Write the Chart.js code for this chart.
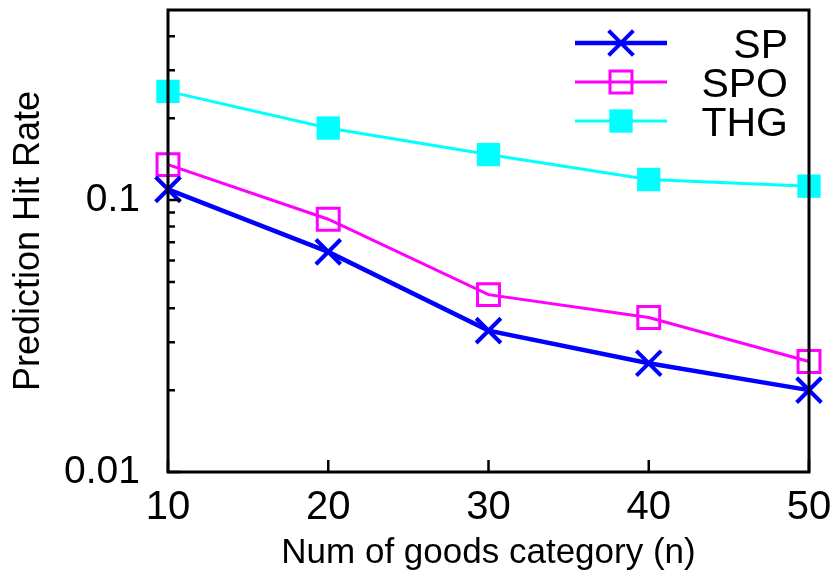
<!DOCTYPE html>
<html>
<head>
<meta charset="utf-8">
<script src="https://cdn.jsdelivr.net/npm/chart.js@4/dist/chart.umd.min.js"></script>
<style>
  html, body { margin: 0; padding: 0; background: #ffffff; }
  #wrap { width: 839px; height: 577px; position: relative; }
</style>
</head>
<body>
<div id="wrap"><canvas id="chart" width="839" height="577"></canvas></div>
<script>
// Number of goods categories (x axis)
const categories = [10, 20, 30, 40, 50];
// Prediction hit rate per method
const spValues  = [0.1095, 0.0645, 0.0331, 0.0251, 0.0200];
const spoValues = [0.1350, 0.0850, 0.0449, 0.0370, 0.0255];
const thgValues = [0.2510, 0.1840, 0.1470, 0.1190, 0.1125];
// Axis ticks
const xTickLabels = [10, 20, 30, 40, 50];
const yTickLabels = [0.01, 0.1];
const yMinorTicks = [0.02, 0.03, 0.04, 0.05, 0.06, 0.07, 0.08, 0.09, 0.2, 0.3, 0.4];
const seriesNames = ['SP', 'SPO', 'THG'];

const FONT = '"Liberation Sans", Arial, Helvetica, sans-serif';

const toPoints = vals => categories.map((x, i) => ({ x: x, y: vals[i] }));

const styles = [
  { color: '#0000ff', width: 4.5, pointStyle: 'crossRot', radius: 17.5, pbw: 4, fill: '#0000ff' },
  { color: '#ff00ff', width: 3,   pointStyle: 'rect',     radius: 15.5, pbw: 3, fill: 'rgba(0,0,0,0)' },
  { color: '#00ffff', width: 3,   pointStyle: 'rect',     radius: 16.5, pbw: 0, fill: '#00ffff' }
];
const seriesData = [spValues, spoValues, thgValues];

const datasets = seriesNames.map((name, i) => ({
  label: name,
  data: toPoints(seriesData[i]),
  borderColor: styles[i].color,
  borderWidth: styles[i].width,
  backgroundColor: styles[i].fill,
  pointStyle: styles[i].pointStyle,
  pointRadius: styles[i].radius,
  pointHoverRadius: styles[i].radius,
  pointBorderWidth: styles[i].pbw,
  pointBorderColor: styles[i].color,
  pointBackgroundColor: styles[i].fill,
  tension: 0,
  clip: false
}));

// Frame, inward tick marks and the in-plot key
const framePlugin = {
  id: 'frame',
  afterDatasetsDraw(chart) {
    const { ctx, chartArea: a, scales } = chart;
    const xs = scales.x, ys = scales.y;
    ctx.save();
    ctx.strokeStyle = '#000000';
    ctx.lineWidth = 2.5;
    // left axis ticks (inward)
    ctx.beginPath();
    yTickLabels.forEach(v => {
      const y = ys.getPixelForValue(v);
      ctx.moveTo(a.left, y); ctx.lineTo(a.left + 13, y);
    });
    yMinorTicks.forEach(v => {
      const y = ys.getPixelForValue(v);
      ctx.moveTo(a.left, y); ctx.lineTo(a.left + 7, y);
    });
    // bottom axis ticks (inward)
    xTickLabels.forEach(v => {
      const x = xs.getPixelForValue(v);
      ctx.moveTo(x, a.bottom); ctx.lineTo(x, a.bottom - 12);
    });
    ctx.stroke();
    // plot frame
    ctx.lineWidth = 3;
    ctx.strokeRect(a.left, a.top, a.right - a.left, a.bottom - a.top);

    // key
    const rows = [43, 82, 121];
    const lineX0 = 575, lineX1 = 667, markX = 621, textRight = 788;
    rows.forEach((ry, i) => {
      const s = styles[i];
      ctx.strokeStyle = s.color;
      ctx.lineWidth = s.width;
      ctx.beginPath();
      ctx.moveTo(lineX0, ry); ctx.lineTo(lineX1, ry);
      ctx.stroke();
      ctx.fillStyle = s.fill;
      ctx.lineWidth = s.pbw;
      Chart.helpers.drawPoint(ctx, {
        pointStyle: s.pointStyle, rotation: 0, radius: s.radius,
        borderWidth: s.pbw
      }, markX, ry);
      ctx.fillStyle = '#000000';
      ctx.font = '41px ' + FONT;
      ctx.textAlign = 'right';
      ctx.textBaseline = 'alphabetic';
      ctx.fillText(seriesNames[i], textRight, ry + 14.5);
    });
    ctx.restore();
  }
};

new Chart(document.getElementById('chart'), {
  type: 'line',
  data: { datasets: datasets },
  options: {
    responsive: false,
    animation: false,
    events: [],
    layout: { autoPadding: false, padding: { top: 10, right: 30, left: 0, bottom: 0 } },
    plugins: { legend: { display: false }, tooltip: { enabled: false } },
    scales: {
      x: {
        type: 'linear',
        min: 10, max: 50,
        afterBuildTicks: s => { s.ticks = xTickLabels.map(v => ({ value: v })); },
        afterFit: s => { s.height = 105; s.paddingLeft = 0; s.paddingRight = 0; },
        grid: { display: false, drawTicks: false },
        border: { display: false },
        ticks: {
          padding: 12,
          color: '#000000',
          font: { family: FONT, size: 40 },
          maxRotation: 0,
          autoSkip: false,
          callback: v => String(v)
        },
        title: {
          display: true,
          text: 'Num of goods category (n)',
          color: '#000000',
          font: { family: FONT, size: 35 },
          padding: { top: 0, bottom: 3 }
        }
      },
      y: {
        type: 'logarithmic',
        min: 0.01, max: 0.5,
        afterBuildTicks: s => { s.ticks = yTickLabels.map(v => ({ value: v })); },
        afterFit: s => { s.width = 168; s.paddingTop = 0; s.paddingBottom = 0; },
        grid: { display: false, drawTicks: false },
        border: { display: false },
        ticks: {
          padding: 28,
          color: '#000000',
          font: { family: FONT, size: 39 },
          autoSkip: false,
          callback: v => String(v)
        },
        title: {
          display: true,
          text: 'Prediction Hit Rate',
          color: '#000000',
          font: { family: FONT, size: 36 },
          padding: { top: 7, bottom: 0 }
        }
      }
    }
  },
  plugins: [framePlugin]
});
</script>
</body>
</html>
